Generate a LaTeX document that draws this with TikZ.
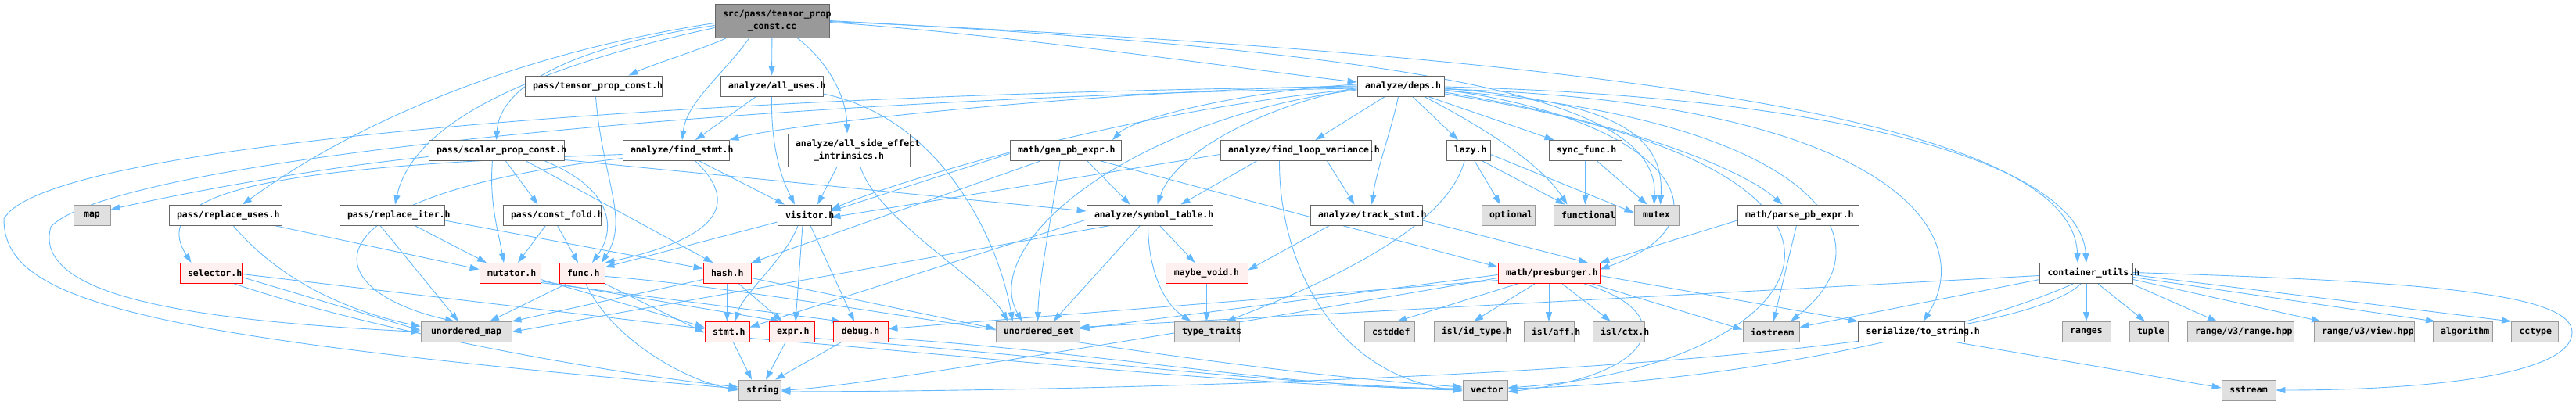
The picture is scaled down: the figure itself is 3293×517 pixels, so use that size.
\documentclass[tikz,border=0pt]{standalone}
\usepackage{fontspec}
\newfontfamily\doxfont{DejaVu Sans Mono}
\usetikzlibrary{arrows.meta,backgrounds}
\definecolor{edgec}{HTML}{63B8FF}
\definecolor{bdark}{HTML}{666666}
\definecolor{bgray}{HTML}{999999}
\definecolor{fgray}{HTML}{E0E0E0}
\definecolor{fred}{HTML}{FFF0F0}
\definecolor{froot}{HTML}{999999}
\tikzset{
 base/.style={inner xsep=10pt, inner ysep=0pt, minimum height=26pt, align=center,
   font=\doxfont\bfseries\fontsize{11.5}{16}\selectfont, line width=0.9pt},
 nb/.style={base, draw=bdark, fill=white},
 ext/.style={base, draw=bgray, fill=fgray},
 redb/.style={base, draw=red, fill=fred},
 rootb/.style={base, draw=bdark, fill=froot, minimum height=43pt},
 e/.style={draw=edgec, line width=0.9pt, -{Triangle[length=12pt,width=8pt]}},
}
\begin{document}
\begin{tikzpicture}[x=1pt,y=-1pt]
\useasboundingbox (0,0) rectangle (3293,517);
% row 1
\node[rootb, text width=126pt] (root) at (987,26.5) {src/pass/tensor\_prop\\\_const.cc};
% row 2
\node[nb, text width=155pt] (tpch) at (758.5,110) {pass/tensor\_prop\_const.h};
\node[nb, text width=111pt] (alluses) at (986.5,110) {analyze/all\_uses.h};
\node[nb, text width=91pt] (deps) at (1790.5,110) {analyze/deps.h};
% row 3
\node[nb, text width=153pt] (spc) at (634.5,192.5) {pass/scalar\_prop\_const.h};
\node[nb, text width=116pt] (findstmt) at (864,192.5) {analyze/find\_stmt.h};
\node[nb, text width=136pt, minimum height=42pt] (allse) at (1085,192) {analyze/all\_side\_effect\\\_intrinsics.h};
\node[nb, text width=122pt] (genpb) at (1362,192.5) {math/gen\_pb\_expr.h};
\node[nb, text width=173pt] (flv) at (1656.5,192.5) {analyze/find\_loop\_variance.h};
\node[nb, text width=36pt] (lazy) at (1877,192.5) {lazy.h};
\node[nb, text width=73pt] (sync) at (2026.5,192.5) {sync\_func.h};
% row 4
\node[ext, text width=27pt] (map) at (117.5,275) {map};
\node[nb, text width=124pt] (ruses) at (288,275) {pass/replace\_uses.h};
\node[nb, text width=114pt] (riter) at (501,275) {pass/replace\_iter.h};
\node[nb, text width=105pt] (cfold) at (705.5,275) {pass/const\_fold.h};
\node[nb, text width=48pt] (visitor) at (1028,275) {visitor.h};
\node[nb, text width=141pt] (symtab) at (1469.5,275) {analyze/symbol\_table.h};
\node[nb, text width=123pt] (track) at (1746.5,275) {analyze/track\_stmt.h};
\node[ext, text width=48pt] (optional) at (1928,275) {optional};
\node[ext, text width=59pt] (functional) at (2025.5,275) {functional};
\node[ext, text width=37pt] (mutex) at (2117.5,275) {mutex};
\node[nb, text width=135pt] (parsepb) at (2298.5,275) {math/parse\_pb\_expr.h};
% row 5
\node[redb, text width=59pt] (selector) at (269.5,349.5) {selector.h};
\node[redb, text width=58pt] (mutator) at (652,349.5) {mutator.h};
\node[redb, text width=38pt] (func) at (744,349.5) {func.h};
\node[redb, text width=41pt] (hash) at (929.5,349.5) {hash.h};
\node[redb, text width=85pt] (maybevoid) at (1542.5,349.5) {maybe\_void.h};
\node[redb, text width=110pt] (presburger) at (1980,349.5) {math/presburger.h};
\node[nb, text width=99pt] (container) at (2667,349.5) {container\_utils.h};
% row 6
\node[ext, text width=96pt] (umap) at (596,424.5) {unordered\_map};
\node[redb, text width=37pt] (stmt) at (929.5,424.5) {stmt.h};
\node[redb, text width=38pt] (expr) at (1012,424.5) {expr.h};
\node[redb, text width=50pt] (debug) at (1100,424.5) {debug.h};
\node[ext, text width=87pt] (uset) at (1326.5,424.5) {unordered\_set};
\node[ext, text width=63pt] (ttraits) at (1542.5,424.5) {type\_traits};
\node[ext, text width=44pt] (cstddef) at (1776,424.5) {cstddef};
\node[ext, text width=72pt] (idtype) at (1879,424.5) {isl/id\_type.h};
\node[ext, text width=44pt] (aff) at (1980,424.5) {isl/aff.h};
\node[ext, text width=46pt] (ctx) at (2069,424.5) {isl/ctx.h};
\node[ext, text width=52pt] (iostream) at (2264,424.5) {iostream};
\node[nb, text width=116pt] (tostring) at (2443.5,424.5) {serialize/to\_string.h};
\node[ext, text width=42pt] (ranges) at (2667,424.5) {ranges};
\node[ext, text width=30pt] (tuple) at (2747,424.5) {tuple};
\node[ext, text width=116pt] (rangehpp) at (2864,424.5) {range/v3/range.hpp};
\node[ext, text width=108pt] (viewhpp) at (3022,424.5) {range/v3/view.hpp};
\node[ext, text width=56pt] (algorithm) at (3148,424.5) {algorithm};
\node[ext, text width=40pt] (cctype) at (3240.5,424.5) {cctype};
% row 7
\node[ext, text width=34pt] (string) at (971,499) {string};
\node[ext, text width=37pt] (vector) at (1898.5,499) {vector};
\node[ext, text width=49pt] (sstream) at (2874.5,499) {sstream};

\begin{pgfonlayer}{background}
% root
\draw[e] ([xshift=-58pt]root.south) .. controls (900,62) and (835,82) .. ([xshift=45pt]tpch.north);
\draw[e] (root) -- (alluses);
\draw[e] ([xshift=-29pt]root.south) .. controls (925,95) and (878,130) .. ([xshift=8pt]findstmt.north);
\draw[e] ([xshift=32pt]root.south) .. controls (1060,80) and (1082,125) .. ([xshift=-2pt]allse.north);
\draw[e] ([yshift=-6pt]root.west) .. controls (760,55) and (640,100) .. (spc.north);
\draw[e] ([yshift=-3pt]root.west) .. controls (650,70) and (450,160) .. ([xshift=22pt]ruses.north);
\draw[e] ([yshift=-9pt]root.west) .. controls (640,95) and (525,170) .. ([xshift=4pt]riter.north);
\draw[e] ([yshift=-2pt]root.east) .. controls (1300,45) and (1600,90) .. ([yshift=5pt]deps.west);
\draw[e] ([yshift=-1pt]root.east) .. controls (2250,80) and (2650,180) .. ([xshift=-11pt]container.north);
\draw[e] (root.east) .. controls (1900,70) and (2120,140) .. ([xshift=-3pt]mutex.north);
% deps
\draw[e] ([xshift=-20pt]deps.south) -- ([xshift=25pt]flv.north);
\draw[e] ([xshift=-3pt]deps.south) .. controls (1778,170) and (1760,215) .. ([xshift=7pt]track.north);
\draw[e] ([xshift=15pt]deps.south) -- ([xshift=-13pt]lazy.north);
\draw[e] ([xshift=35pt]deps.south) -- ([xshift=-40pt]sync.north);
\draw[e] ([xshift=30pt]deps.south) .. controls (1900,165) and (1970,210) .. ([xshift=-22pt]functional.north);
\draw[e] ([yshift=-3pt]deps.east) .. controls (2060,130) and (2128,170) .. ([xshift=5pt]mutex.north);
\draw[e] ([yshift=-5pt]deps.east) .. controls (2120,150) and (2230,280) .. ([yshift=5pt]presburger.east);
\draw[e] ([yshift=-8pt]deps.east) .. controls (2050,150) and (2220,210) .. ([xshift=-20pt]parsepb.north);
\draw[e] ([yshift=-1pt]deps.east) .. controls (2400,125) and (2660,220) .. (container.north);
\draw[e] ([yshift=-6pt]deps.east) .. controls (2300,150) and (2430,300) .. ([xshift=25pt]iostream.north);
\draw[e] ([yshift=-4pt]deps.east) .. controls (2420,130) and (2530,300) .. ([xshift=15pt]tostring.north);
\draw[e] ([yshift=-10pt]deps.east) .. controls (2500,220) and (2320,470) .. ([yshift=3pt]vector.east);
\draw[e] ([yshift=2pt]deps.west) .. controls (1600,115) and (1450,150) .. ([xshift=60pt]genpb.north);
\draw[e] ([yshift=-2pt]deps.west) .. controls (1600,140) and (1500,200) .. ([xshift=10pt]symtab.north);
\draw[e] ([yshift=-4pt]deps.west) .. controls (1450,140) and (1150,230) .. ([yshift=7pt]visitor.east);
\draw[e] (deps.west) .. controls (1400,115) and (1000,160) .. (findstmt.north east);
\draw[e] ([yshift=-1pt]deps.west) .. controls (1000,118) and (60,175) .. (5,280) .. controls (5,380) and (150,430) .. ([yshift=2pt]string.west);
\draw[e] ([yshift=-3pt]deps.west) .. controls (1000,125) and (150,200) .. (65,290) .. controls (40,380) and (250,410) .. (umap.west);
\draw[e] ([yshift=-5pt]deps.west) .. controls (1450,150) and (1250,310) .. ([xshift=-20pt]uset.north);
% visitor
\draw[e] (visitor) -- (func);
\draw[e] ([xshift=-8pt]visitor.south) .. controls (1005,330) and (950,375) .. ([xshift=10pt]stmt.north);
\draw[e] ([xshift=-2pt]visitor.south) -- ([xshift=5pt]expr.north);
\draw[e] ([xshift=8pt]visitor.south) -- ([xshift=-8pt]debug.north);
% alluses
\draw[e] ([xshift=-20pt]alluses.south) -- ([xshift=25pt]findstmt.north);
\draw[e] (alluses.south) .. controls (985,200) and (1005,240) .. ([xshift=-12pt]visitor.north);
\draw[e] ([yshift=-10pt]alluses.east) .. controls (1200,150) and (1275,300) .. ([xshift=-32pt]uset.north);
% findstmt
\draw[e] ([xshift=30pt]findstmt.south) -- ([xshift=-25pt]visitor.north);
\draw[e] ([xshift=25pt]findstmt.south) .. controls (935,250) and (940,300) .. (func.north east);
\draw[e] ([yshift=-5pt]findstmt.west) .. controls (400,212) and (180,235) .. ([xshift=-25pt]selector.north);
\draw[e] ([yshift=-10pt]findstmt.west) .. controls (380,250) and (400,370) .. ([xshift=-15pt]umap.north);
% allse
\draw[e] ([xshift=-15pt]allse.south) -- ([xshift=17pt]visitor.north);
\draw[e] ([xshift=15pt]allse.south) .. controls (1120,280) and (1260,360) .. ([xshift=-38pt]uset.north);
% tpch
\draw[e] ([xshift=3pt]tpch.south) .. controls (770,230) and (805,280) .. ([xshift=25pt]func.north);
% spc
\draw[e] ([xshift=-5pt]spc.south) .. controls (625,260) and (638,300) .. ([xshift=-8pt]mutator.north);
\draw[e] ([xshift=12pt]spc.south) -- ([xshift=-18pt]cfold.north);
\draw[e] ([xshift=62pt]spc.south) .. controls (780,240) and (790,290) .. ([xshift=13pt]func.north);
\draw[e] ([xshift=38pt]spc.south) -- ([xshift=-18pt]hash.north);
\draw[e] ([yshift=-8pt]spc.west) .. controls (400,215) and (220,250) .. ([yshift=7pt]map.east);
\draw[e] ([yshift=-12pt]spc.east) -- ([yshift=5pt]symtab.west);
% cfold
\draw[e] ([xshift=-8pt]cfold.south) -- ([xshift=10pt]mutator.north);
\draw[e] ([xshift=7pt]cfold.south) -- ([xshift=-5pt]func.north);
% riter
\draw[e] ([xshift=29pt]riter.south) -- ([xshift=-30pt]mutator.north);
\draw[e] ([xshift=-15pt]riter.south) -- ([xshift=-10pt]umap.north);
\draw[e] ([yshift=-7pt]riter.east) -- ([yshift=6pt]hash.west);
% ruses
\draw[e] ([xshift=-10pt]ruses.south east) -- ([yshift=5pt]mutator.west);
\draw[e] ([xshift=10pt]ruses.south) .. controls (350,350) and (430,395) .. ([yshift=7pt]umap.west);
% selector
\draw[e] ([yshift=-5pt]selector.east) -- ([yshift=2pt]umap.west);
\draw[e] ([yshift=-1pt]selector.east) -- ([yshift=4pt]stmt.west);
\draw[e] ([xshift=30pt]selector.south) .. controls (500,430) and (800,480) .. ([yshift=4pt]string.west);
% mutator
\draw[e] ([yshift=-8pt]mutator.east) -- ([yshift=6pt]stmt.west);
\draw[e] ([yshift=-10pt]mutator.east) -- ([xshift=-15pt]expr.north);
\draw[e] ([yshift=-12pt]mutator.east) -- ([xshift=-25pt]debug.north);
% func
\draw[e] (func.south east) -- ([yshift=-1pt]stmt.west);
\draw[e] ([xshift=5pt]func.south) .. controls (780,430) and (870,485) .. (string.west);
\draw[e] ([xshift=-20pt]func.south) -- ([xshift=30pt]umap.north);
\draw[e] ([yshift=-4pt]func.east) .. controls (1000,370) and (1500,470) .. ([yshift=4pt]vector.west);
% hash
\draw[e] (hash) -- (stmt);
\draw[e] ([xshift=15pt]hash.south) -- ([xshift=-12pt]expr.north);
\draw[e] ([yshift=-8pt]hash.west) -- (umap.north east);
\draw[e] ([yshift=-6pt]hash.east) -- ([yshift=4pt]uset.west);
% stmt expr debug
\draw[e] ([xshift=8pt]stmt.south) -- ([xshift=-10pt]string.north);
\draw[e] ([xshift=-8pt]expr.south) -- ([xshift=8pt]string.north);
\draw[e] ([xshift=-25pt]debug.south) -- ([xshift=20pt]string.north);
\draw[e] ([yshift=-8pt]stmt.east) .. controls (1300,460) and (1600,495) .. ([yshift=2pt]vector.west);
\draw[e] ([yshift=-8pt]expr.east) .. controls (1350,455) and (1600,490) .. ([yshift=1pt]vector.west);
\draw[e] ([yshift=-8pt]debug.east) .. controls (1400,450) and (1650,495) .. (vector.west);
% symtab
\draw[e] ([xshift=13pt]symtab.south) -- ([xshift=-15pt]maybevoid.north);
\draw[e] ([xshift=-2pt]symtab.south) .. controls (1468,350) and (1490,390) .. ([xshift=-20pt]ttraits.north);
\draw[e] ([xshift=-12pt]symtab.south) -- ([xshift=20pt]uset.north);
\draw[e] ([yshift=-6pt]symtab.west) -- ([yshift=6pt]stmt.east);
\draw[e] ([xshift=-50pt]symtab.south) -- (umap.east);
% maybe_void
\draw[e] (maybevoid) -- (ttraits);
% genpb
\draw[e] ([xshift=28pt]genpb.south) -- ([xshift=-25pt]symtab.north);
\draw[e] ([xshift=-7pt]genpb.south) .. controls (1340,300) and (1328,360) .. (uset.north);
\draw[e] ([yshift=-4pt]genpb.west) -- ([yshift=5pt]visitor.east);
\draw[e] ([xshift=-32pt]genpb.south) -- (hash.north east);
\draw[e] ([xshift=45pt]genpb.south) -- ([yshift=8pt]presburger.west);
% flv
\draw[e] ([xshift=-50pt]flv.south) -- ([xshift=40pt]symtab.north);
\draw[e] ([xshift=40pt]flv.south) -- ([xshift=-15pt]track.north);
\draw[e] ([xshift=-21pt]flv.south) .. controls (1635,330) and (1700,480) .. ([yshift=-1pt]vector.west);
\draw[e] ([yshift=-5pt]flv.west) -- ([yshift=-3pt]visitor.east);
% lazy
\draw[e] ([xshift=8pt]lazy.south) -- ([xshift=-10pt]optional.north);
\draw[e] ([xshift=18pt]lazy.south) -- ([xshift=-25pt]functional.north);
\draw[e] ([yshift=-5pt]lazy.east) -- ([yshift=3pt]mutex.west);
\draw[e] ([xshift=-5pt]lazy.south) .. controls (1850,290) and (1700,360) .. ([xshift=25pt]ttraits.north);
% sync
\draw[e] (sync.south) -- ([xshift=1pt]functional.north);
\draw[e] ([xshift=15pt]sync.south) -- ([xshift=-12pt]mutex.north);
% track
\draw[e] ([yshift=-7pt]track.east) -- ([xshift=50pt]presburger.north);
\draw[e] ([xshift=-47pt]track.south) -- ([yshift=4pt]maybevoid.east);
% presburger
\draw[e] ([xshift=-40pt]presburger.south) -- ([xshift=10pt]cstddef.north);
\draw[e] ([xshift=-18pt]presburger.south) -- ([xshift=5pt]idtype.north);
\draw[e] (presburger) -- (aff);
\draw[e] ([xshift=17pt]presburger.south) -- ([xshift=-10pt]ctx.north);
\draw[e] ([xshift=-10pt]presburger.south east) -- ([yshift=3pt]iostream.west);
\draw[e] ([yshift=-3pt]presburger.east) -- (tostring.north west);
\draw[e] ([xshift=45pt]presburger.south) .. controls (2150,400) and (2120,480) .. ([yshift=-2pt]vector.east);
\draw[e] ([yshift=-6pt]presburger.west) .. controls (1600,410) and (1100,495) .. (string.east);
\draw[e] ([yshift=-2pt]presburger.west) -- ([yshift=4pt]uset.east);
\draw[e] ([yshift=-9pt]presburger.west) -- ([yshift=4pt]debug.east);
% parsepb
\draw[e] ([yshift=-7pt]parsepb.west) -- (presburger.north east);
\draw[e] ([xshift=-2pt]parsepb.south) -- ([xshift=3pt]iostream.north);
% container
\draw[e] (container) -- (ranges);
\draw[e] ([xshift=15pt]container.south) -- ([xshift=-5pt]tuple.north);
\draw[e] ([xshift=-2pt]container.south east) -- ([xshift=-30pt]rangehpp.north);
\draw[e] ([yshift=-8pt]container.east) -- ([xshift=-55pt]viewhpp.north);
\draw[e] ([yshift=-5pt]container.east) -- ([xshift=-35pt]algorithm.north);
\draw[e] ([yshift=-2pt]container.east) -- (cctype.north west);
\draw[e] ([yshift=1pt]container.east) .. controls (3100,360) and (3288,375) .. (3288,425) .. controls (3288,480) and (3100,499) .. (sstream.east);
\draw[e] ([yshift=-8pt]container.west) -- ([yshift=6pt]iostream.east);
\draw[e] ([xshift=-17pt]container.south) .. controls (2500,430) and (2200,490) .. ([yshift=2pt]vector.east);
\draw[e] ([xshift=-7pt]container.south) .. controls (2550,470) and (1500,500) .. ([yshift=-2pt]string.east);
\draw[e] ([yshift=-3pt]container.west) -- ([yshift=6pt]uset.east);
% to_string
\draw[e] ([xshift=-10pt]tostring.south east) -- ([yshift=3pt]sstream.west);
\end{pgfonlayer}
\end{tikzpicture}
\end{document}
